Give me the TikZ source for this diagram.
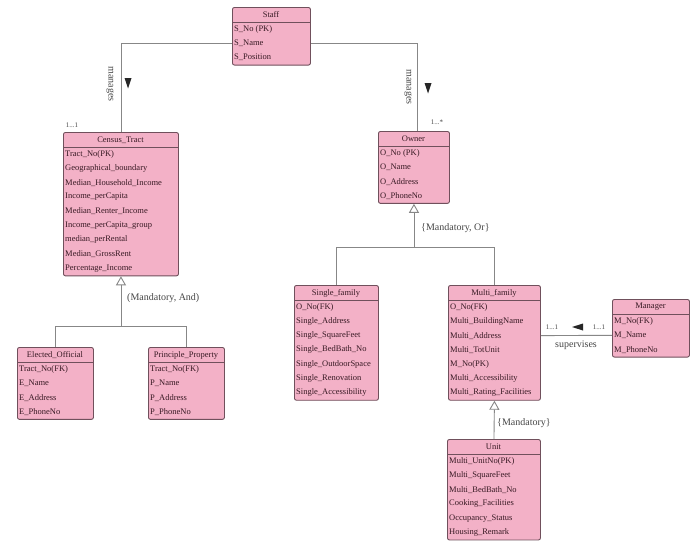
\documentclass[tikz,border=0pt]{standalone}
\usepackage{fontspec}
\setmainfont{Liberation Serif}
\usetikzlibrary{arrows.meta,calc}
\definecolor{boxfill}{RGB}{243,177,199}
\definecolor{boxdraw}{RGB}{112,80,92}
\definecolor{boxtext}{RGB}{55,25,35}
\definecolor{conncol}{RGB}{135,135,135}
\definecolor{labcol}{RGB}{70,70,70}
\tikzset{
  classbox/.style={draw=boxdraw, fill=boxfill, line width=0.9pt, rounded corners=2pt, inner sep=0pt},
  classtitle/.style={text=boxtext, font=\fontsize{8.5}{10}\selectfont, inner sep=0pt},
  rowtext/.style={text=boxtext, font=\fontsize{8.5}{10}\selectfont, inner sep=0pt, anchor=west},
  divider/.style={draw=boxdraw, line width=0.9pt},
  conn/.style={draw=conncol, line width=0.9pt},
  gentip/.style={-{Triangle[length=9pt,width=10pt,fill=white]}},
  lab/.style={text=labcol, font=\fontsize{10}{12}\selectfont, inner sep=0pt},
  mult/.style={text=labcol, font=\fontsize{7}{8}\selectfont, inner sep=0pt},
  dirarrow/.style={fill=black!85},
}
% #1 name, #2 left x, #3 top y, #4 width, #5 number of rows, #6 title, #7 rows
\newcommand\umlclass[7]{%
  \pgfmathsetmacro\clsh{22+(#5-1)*14.3+7}%
  \node[classbox, minimum width=#4pt, minimum height=\clsh pt, anchor=north west] (#1) at (#2,#3) {};
  \node[classtitle] (#1-t) at (#2+#4/2,#3+8) {#6};
  \draw[divider] (#2,#3+15) -- (#2+#4,#3+15);
  \foreach \rtxt [count=\ri from 0] in {#7} {
    \node[rowtext] (#1-r\ri) at (#2+2,#3+22+\ri*14.3) {\rtxt};
  }%
}
\begin{document}
\begin{tikzpicture}[x=1pt,y=-1pt]
\useasboundingbox (0,0) rectangle (700,557);
\fill[white] (0,0) rectangle (700,557);

\umlclass{staff}{232}{7}{78}{3}{Staff}{S\_No (PK),S\_Name,S\_Position}
\umlclass{census}{63}{132}{115}{9}{Census\_Tract}{Tract\_No(PK),Geographical\_boundary,Median\_Household\_Income,Income\_perCapita,Median\_Renter\_Income,Income\_perCapita\_group,median\_perRental,Median\_GrossRent,Percentage\_Income}
\umlclass{owner}{378}{131}{71}{4}{Owner}{O\_No (PK),O\_Name,O\_Address,O\_PhoneNo}
\umlclass{single}{294}{285}{84}{7}{Single\_family}{O\_No(FK),Single\_Address,Single\_SquareFeet,Single\_BedBath\_No,Single\_OutdoorSpace,Single\_Renovation,Single\_Accessibility}
\umlclass{multi}{448}{285}{92}{7}{Multi\_family}{O\_No(FK),Multi\_BuildingName,Multi\_Address,Multi\_TotUnit,M\_No(PK),Multi\_Accessibility,Multi\_Rating\_Facilities}
\umlclass{manager}{612}{299}{77}{3}{Manager}{M\_No(FK),M\_Name,M\_PhoneNo}
\umlclass{elected}{17}{347}{76}{4}{Elected\_Official}{Tract\_No(FK),E\_Name,E\_Address,E\_PhoneNo}
\umlclass{principle}{148}{347}{76}{4}{Principle\_Property}{Tract\_No(FK),P\_Name,P\_Address,P\_PhoneNo}
\umlclass{unit}{447}{439}{93}{6}{Unit}{Multi\_UnitNo(PK),Multi\_SquareFeet,Multi\_BedBath\_No,Cooking\_Facilities,Occupancy\_Status,Housing\_Remark}

% manages connectors
\coordinate (ownerIn) at ($(owner.north)+(3.5,0)$);
\draw[conn] (staff-r1 -| staff.west) -| (census.north);
\draw[conn] (staff-r1 -| staff.east) -| (ownerIn);
\node[lab, rotate=-90] (manL) at (110,84) {manages};
\node[lab, rotate=-90] (manR) at (408,87) {manages};
\fill[dirarrow] (124.5,78) -- (131.5,78) -- (128,88.5) -- cycle;
\fill[dirarrow] (424.5,83) -- (431.5,83) -- (428,93.5) -- cycle;
\node[mult] (mCensus) at (72,125) {1...1};
\node[mult] (mOwner) at (437,122) {1...*};

% generalization Census_Tract
\coordinate (jAnd) at ($(census.south)+(0,50)$);
\draw[conn] (elected.north) |- (jAnd) -| (principle.north);
\draw[conn, gentip] (jAnd) -- (census.south);
\node[lab, anchor=west] (gAnd) at (127,298) {(Mandatory, And)};

% generalization Owner
\coordinate (jOr) at ($(owner.south)+(0,44)$);
\draw[conn] (single.north) |- (jOr) -| (multi.north);
\draw[conn, gentip] (jOr) -- (owner.south);
\node[lab, anchor=west] (gOr) at (421,228) {\{Mandatory, Or\}};

% Multi_family -- Unit
\draw[conn, gentip] (unit.north) -- (multi.south);
\node[lab, anchor=west] (gMand) at (497,423) {\{Mandatory\}};

% supervises
\draw[conn] (multi-r2 -| multi.east) -- (manager-r1 -| manager.west);
\node[mult] (mMulti) at (552,327) {1...1};
\node[mult] (mManager) at (599,327) {1...1};
\fill[dirarrow] (583,323.5) -- (583,330.5) -- (572,327) -- cycle;
\node[lab] (sup) at (576,345) {supervises};
\end{tikzpicture}
\end{document}
